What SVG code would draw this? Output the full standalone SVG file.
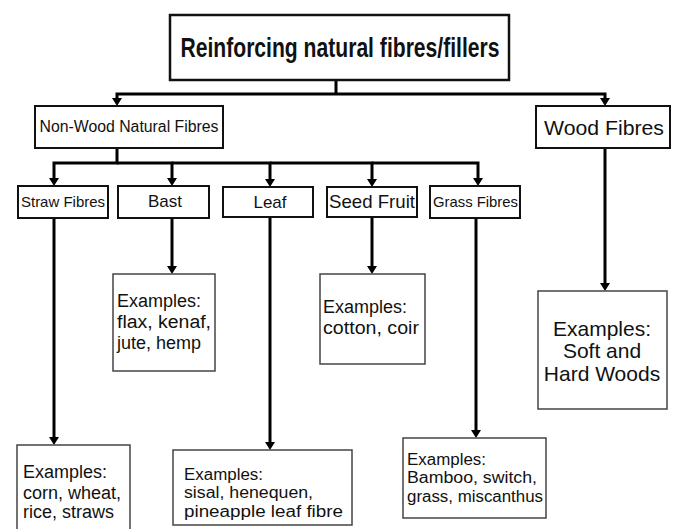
<svg xmlns="http://www.w3.org/2000/svg" width="680" height="529" viewBox="0 0 680 529">
<style>
  .main{fill:#fff;stroke:#111;stroke-width:2}
  .top{fill:#fff;stroke:#111;stroke-width:2.5}
  .ex{fill:#fff;stroke:#444;stroke-width:1.5}
  .lbl{font-family:"Liberation Sans",Arial,sans-serif;fill:#111;text-anchor:middle}
  .ext{font-family:"Liberation Sans",Arial,sans-serif;fill:#111;font-size:18px}
  .sm{font-size:16px}
  .conn path{fill:none;stroke:#000;stroke-width:3}
</style>
<defs>
  <marker id="ah" markerUnits="userSpaceOnUse" markerWidth="8" markerHeight="10" viewBox="0 0 8 10" refX="0" refY="5" orient="auto">
    <path d="M0,0 L8,5 L0,10 z" fill="#000"/>
  </marker>
</defs>
<g class="conn" id="connectors">
  <path d="M336,80 V94"/>
  <path d="M336,94 H117 V98" marker-end="url(#ah)"/>
  <path d="M336,94 H605 V98" marker-end="url(#ah)"/>
  <path d="M117,148 V163 H54 V178" marker-end="url(#ah)"/>
  <path d="M117,163 H172 V178" marker-end="url(#ah)"/>
  <path d="M172,163 H270 V179" marker-end="url(#ah)"/>
  <path d="M270,163 H372 V179" marker-end="url(#ah)"/>
  <path d="M372,163 H478 V178" marker-end="url(#ah)"/>
  <path d="M605,148 V283" marker-end="url(#ah)"/>
  <path d="M54,218 V437" marker-end="url(#ah)"/>
  <path d="M172,218 V266" marker-end="url(#ah)"/>
  <path d="M270,217 V442" marker-end="url(#ah)"/>
  <path d="M372,217 V266" marker-end="url(#ah)"/>
  <path d="M476,218 V430" marker-end="url(#ah)"/>
</g>
<g id="root">
  <rect class="top" x="170" y="15" width="339" height="65"/>
  <text class="lbl" x="340" y="57" font-size="28" font-weight="bold" textLength="319" lengthAdjust="spacingAndGlyphs">Reinforcing natural fibres/fillers</text>
</g>
<g id="nonwood">
  <rect class="main" x="35" y="106" width="188" height="42"/>
  <text class="lbl" x="129" y="132" font-size="16" textLength="179" lengthAdjust="spacingAndGlyphs">Non-Wood Natural Fibres</text>
</g>
<g id="wood">
  <rect class="main" x="536" y="106" width="134" height="42"/>
  <text class="lbl" x="604" y="135" font-size="21" textLength="120" lengthAdjust="spacingAndGlyphs">Wood Fibres</text>
</g>
<g id="straw">
  <rect class="main" x="18" y="186" width="90" height="32"/>
  <text class="lbl" x="63" y="207" font-size="15" textLength="84" lengthAdjust="spacingAndGlyphs">Straw Fibres</text>
</g>
<g id="bast">
  <rect class="main" x="118" y="186" width="91" height="32"/>
  <text class="lbl" x="165" y="207" font-size="17">Bast</text>
</g>
<g id="leaf">
  <rect class="main" x="223" y="187" width="90" height="30"/>
  <text class="lbl" x="270" y="208" font-size="17">Leaf</text>
</g>
<g id="seed">
  <rect class="main" x="327" y="187" width="90" height="30"/>
  <text class="lbl" x="372" y="208" font-size="18.5" textLength="86" lengthAdjust="spacingAndGlyphs">Seed Fruit</text>
</g>
<g id="grass">
  <rect class="main" x="430" y="186" width="90" height="32"/>
  <text class="lbl" x="475.5" y="207" font-size="15" textLength="85" lengthAdjust="spacingAndGlyphs">Grass Fibres</text>
</g>
<g id="wood-ex">
  <rect class="ex" x="538" y="291" width="129" height="118"/>
  <text class="lbl" x="602" y="336" font-size="21">Examples:</text>
  <text class="lbl" x="602" y="358" font-size="21">Soft and</text>
  <text class="lbl" x="602" y="381" font-size="21">Hard Woods</text>
</g>
<g id="bast-ex">
  <rect class="ex" x="113" y="274" width="102" height="97"/>
  <text class="ext" x="117" y="307">Examples:</text>
  <text class="ext" x="117" y="328" textLength="94" lengthAdjust="spacingAndGlyphs">flax, kenaf,</text>
  <text class="ext" x="117" y="349">jute, hemp</text>
</g>
<g id="seed-ex">
  <rect class="ex" x="320" y="274" width="105" height="90"/>
  <text class="ext" x="323" y="313" font-size="19">Examples:</text>
  <text class="ext" x="323" y="334" font-size="19" textLength="96" lengthAdjust="spacingAndGlyphs">cotton, coir</text>
</g>
<g id="straw-ex">
  <rect class="ex" x="17" y="445" width="113" height="92"/>
  <text class="ext" x="23" y="478">Examples:</text>
  <text class="ext" x="23" y="499">corn, wheat,</text>
  <text class="ext" x="23" y="518">rice, straws</text>
</g>
<g id="leaf-ex">
  <rect class="ex" x="173" y="450" width="179" height="75"/>
  <text class="ext sm" x="184" y="480" textLength="79" lengthAdjust="spacingAndGlyphs">Examples:</text>
  <text class="ext sm" x="184" y="498" textLength="129" lengthAdjust="spacingAndGlyphs">sisal, henequen,</text>
  <text class="ext sm" x="184" y="517" textLength="159" lengthAdjust="spacingAndGlyphs">pineapple leaf fibre</text>
</g>
<g id="grass-ex">
  <rect class="ex" x="403" y="438" width="143" height="80"/>
  <text class="ext sm" x="407" y="465" textLength="79" lengthAdjust="spacingAndGlyphs">Examples:</text>
  <text class="ext sm" x="407" y="483" textLength="130" lengthAdjust="spacingAndGlyphs">Bamboo, switch,</text>
  <text class="ext sm" x="407" y="502" textLength="136" lengthAdjust="spacingAndGlyphs">grass, miscanthus</text>
</g>
</svg>
